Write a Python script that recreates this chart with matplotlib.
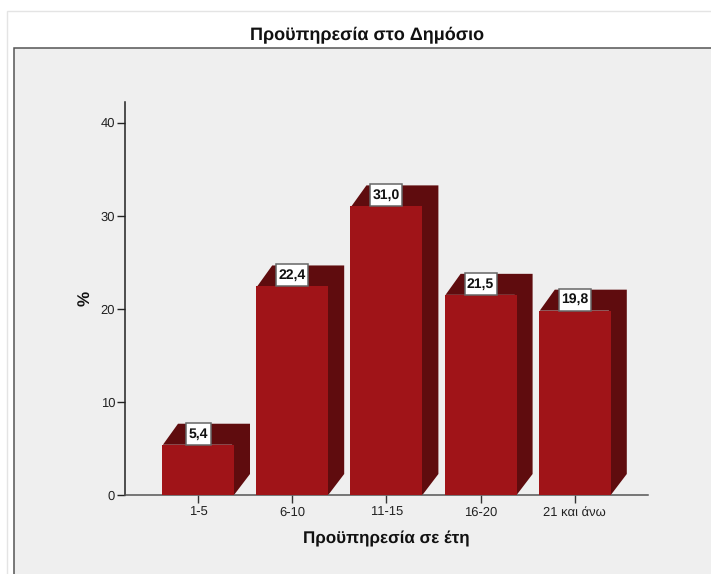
import matplotlib
matplotlib.use("Agg")
import matplotlib.pyplot as plt
from matplotlib.patches import Rectangle, Polygon

plt.rcParams['font.family'] = ['Liberation Sans', 'DejaVu Sans']
plt.rcParams['text.hinting'] = 'no_hinting'
plt.rcParams['text.hinting_factor'] = 1

categories = ['1-5', '6-10', '11-15', '16-20', '21 και άνω']
percent = [5.4, 22.4, 31.0, 21.5, 19.8]
value_labels = ['5,4', '22,4', '31,0', '21,5', '19,8']
y_ticks = [0, 10, 20, 30, 40]

W, H = 711, 574
front = '#a01418'
dark = '#5f0c0e'

fig = plt.figure(figsize=(W / 100, H / 100), dpi=100, facecolor='white')

# outer chart border and grey panel, in pixels from the top left
def px_rect(x0, y0, x1, y1, **kw):
    fig.add_artist(Rectangle((x0 / W, 1 - y1 / H), (x1 - x0) / W, (y1 - y0) / H,
                             transform=fig.transFigure, zorder=-5, **kw))

px_rect(6.5, 10.5, 720, 590, facecolor='white', edgecolor='#e4e4e4', linewidth=1)
px_rect(13.5, 47.5, 720, 590, facecolor='#efefef', edgecolor='#555555', linewidth=1.1)

ax = fig.add_axes([124.5 / W, 1 - 495 / H, (648 - 124.5) / W, (495 - 102) / H])
ax.patch.set_alpha(0)
step = 94.2
upp = 9.31
ax.set_xlim((124.5 - 198) / step, (648 - 198) / step)
ax.set_ylim(0, (495 - 102) / upp)

width = 72 / step
dx = 16 / step
dy = 21 / upp

xs = list(range(len(categories)))
ax.bar(xs, percent, width=width, color=front, zorder=3, linewidth=0)
for x, v, lab in zip(xs, percent, value_labels):
    l, r = x - width / 2, x + width / 2
    # dark silhouette behind the front face gives the top and side of the 3d bar
    ax.add_patch(Polygon([(l + 0.01, v), (l + dx, v + dy), (r + dx, v + dy), (r + dx, dy), (r, 0), (r - 0.02, 0), (r - 0.02, v)],
                         closed=True, facecolor=dark, edgecolor='none', zorder=2, clip_on=False))
    box_w = (25 if len(lab) == 3 else 32) / step
    ax.add_patch(Rectangle((x - box_w / 2, v), box_w, 22 / upp, facecolor='white', edgecolor='#666666',
                           linewidth=1.1, zorder=4, clip_on=False))
    ax.text(x, v + 11 / upp, lab, ha='center', va='center', fontsize=10.2, fontweight='bold',
            color='#111111', zorder=5)

for s in ['top', 'right']:
    ax.spines[s].set_visible(False)
ax.spines['left'].set_color('#222222')
ax.spines['left'].set_linewidth(1.1)
ax.spines['bottom'].set_color('#555555')
ax.spines['bottom'].set_linewidth(1.1)

ax.set_xticks(xs, categories)
ax.set_yticks(y_ticks)
ax.tick_params(axis='x', length=5.8, width=1, color='#333333', labelsize=9, labelcolor='#222222', pad=2.7)
ax.tick_params(axis='y', length=5.8, width=1, color='#222222', labelsize=9.5, labelcolor='#222222', pad=1)

fig.text(367.5 / W, 1 - 35 / H, 'Προϋπηρεσία στο Δημόσιο', ha='center', va='center',
         fontsize=13, fontweight='bold', color='#111111')
fig.text(386 / W, 1 - 539 / H, 'Προϋπηρεσία σε έτη', ha='center', va='center',
         fontsize=12.2, fontweight='bold', color='#111111')
fig.text(85 / W, 1 - 298 / H, '%', ha='center', va='center', rotation=90,
         fontsize=12.2, fontweight='bold', color='#111111')

fig.savefig('out.png', dpi=100)
